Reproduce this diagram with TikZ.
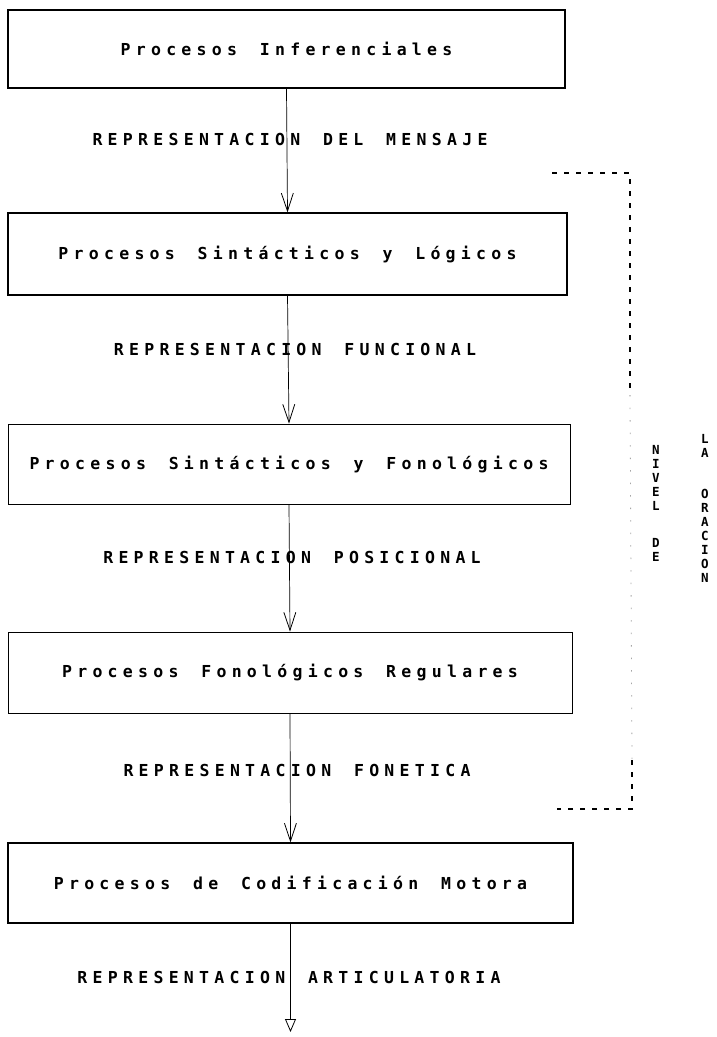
\documentclass[tikz,border=0pt]{standalone}
\usepackage{fontspec}
\newfontfamily\plotfont[LetterSpace=32,WordSpace=1.5]{DejaVu Sans Mono Bold}
\newfontfamily\stackfont{DejaVu Sans Mono Bold}
\usetikzlibrary{arrows.meta}

\begin{document}
\begin{tikzpicture}[x=1pt,y=-1pt,
  procbox/.style={draw, line width=1.1pt, inner sep=0pt,
    font=\plotfont\fontsize{16.5}{20}\selectfont},
  replabel/.style={inner sep=0pt, font=\plotfont\fontsize{16.5}{20}\selectfont},
  flow/.style={line width=0.7pt, -{Straight Barb[length=18pt,width=12pt,line width=0.8pt]}},
  lastflow/.style={line width=0.7pt, -{Triangle[open,length=13pt,width=11pt,line width=0.8pt]}},
  bracket/.style={line width=1.1pt, dash pattern=on 5pt off 7pt},
  faint/.style={line width=0.8pt, black!35, dash pattern=on 1.5pt off 11pt},
  stacked/.style={inner sep=0pt, align=center, anchor=north,
    font=\stackfont\fontsize{12.5}{14}\selectfont}]
\useasboundingbox (0,0) rectangle (717,1037);

% processing stages
\node[procbox, line width=1.4pt, minimum width=557pt, minimum height=78pt] (b1) at (286.5,49) {Procesos Inferenciales};
\node[procbox, line width=1.3pt, minimum width=559pt, minimum height=82pt] (b2) at (287.5,254) {Procesos Sintácticos y Lógicos};
\node[procbox, line width=0.9pt, minimum width=562pt, minimum height=80pt] (b3) at (289,464) {Procesos Sintácticos y Fonológicos};
\node[procbox, line width=0.9pt, minimum width=564pt, minimum height=81pt] (b4) at (290,672.5) {Procesos Fonológicos Regulares};
\node[procbox, line width=1.1pt, minimum width=565pt, minimum height=80pt] (b5) at (290.5,883) {Procesos de Codificación Motora};

% representations passed between stages
\node[replabel] (r1) at (290,139) {REPRESENTACION DEL MENSAJE};
\node[replabel] (r2) at (295,349) {REPRESENTACION FUNCIONAL};
\node[replabel] (r3) at (292,557) {REPRESENTACION POSICIONAL};
\node[replabel] (r4) at (297,770) {REPRESENTACION FONETICA};
\node[replabel] (r5) at (289,977) {REPRESENTACION ARTICULATORIA};

% flow between stages
\draw[flow] (b1.south) -- (b2.north);
\draw[flow] (b2.south) -- (b3.north);
\draw[flow] (b3.south) -- (b4.north);
\draw[flow] (b4.south) -- (b5.north);
\coordinate (out) at (290.5,1032);
\draw[lastflow] (b5.south) -- (out);

% bracket grouping the sentence-level stages
\coordinate (bt0) at (552,173);
\coordinate (bt1) at (630,173);
\coordinate (bt2) at (630,395);
\coordinate (bb2) at (632,760);
\coordinate (bb1) at (632,809);
\coordinate (bb0) at (557,809);
\draw[bracket] (bt0) -- (bt1) -- (bt2);
\draw[faint] (bt2) -- (bb2);
\draw[bracket] (bb2) -- (bb1) -- (bb0);

% vertical caption
\node[stacked] (nivel) at (656,445) {N\\I\\V\\E\\L};
\node[stacked] (de) at (656,538) {D\\E};
\node[stacked] (la) at (705,434) {L\\A};
\node[stacked] (oracion) at (705,489) {O\\R\\A\\C\\I\\O\\N};
\end{tikzpicture}
\end{document}
